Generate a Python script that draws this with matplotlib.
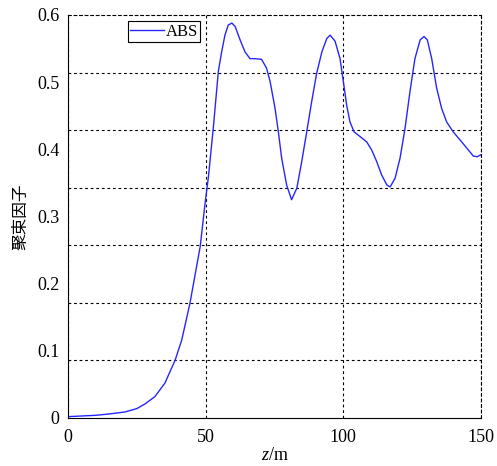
import numpy as np
import matplotlib
matplotlib.use("Agg")
import matplotlib.pyplot as plt
from matplotlib.ticker import FixedLocator

z = [0, 5, 10, 15, 20.7, 25, 28, 31.6, 35.2, 38.9, 41.3, 44.3, 48, 49.8, 51, 52.8,
     54.6, 55.8, 57.0, 58.2, 59.5, 60.7, 62.5, 64.3, 66.1, 67.9, 70.3, 72.1, 73.4, 75.2,
     76.4, 77.6, 79.4, 81.2, 83.1, 84.9, 86.7, 88.5, 90.3, 92.2, 94.0, 95.2, 97.0, 98.8,
     100, 101.2, 102.4, 103.9, 106.1, 108.5, 110.3, 112.1, 113.9, 115.8, 117, 118.8,
     120.6, 122.4, 124.2, 126, 127.9, 129.3, 130.5, 132.1, 133.9, 135.7, 137.5, 139.9,
     142.4, 144.8, 147.2, 148.6, 150]
abs_vals = [0.002, 0.003, 0.004, 0.006, 0.009, 0.014, 0.021, 0.032, 0.052, 0.086, 0.116,
            0.171, 0.255, 0.32, 0.359, 0.433,
            0.516, 0.545, 0.570, 0.585, 0.588, 0.583, 0.563, 0.545, 0.535, 0.535, 0.534,
            0.521, 0.501, 0.461, 0.426, 0.387, 0.347, 0.325, 0.342, 0.382, 0.426, 0.471,
            0.513, 0.545, 0.565, 0.570, 0.561, 0.535, 0.501, 0.466, 0.441, 0.426, 0.419,
            0.411, 0.399, 0.382, 0.362, 0.347, 0.344, 0.357, 0.387, 0.431, 0.486, 0.535,
            0.563, 0.568, 0.563, 0.535, 0.491, 0.461, 0.441, 0.426, 0.414, 0.402, 0.39,
            0.389, 0.392]

xticks = [0, 50, 100, 150]
ytick_vals = [0, 0.1, 0.2, 0.3, 0.4, 0.5, 0.6]
ytick_labels = ["0", "0.1", "0.2", "0.3", "0.4", "0.5", "0.6"]
n_grid = 7

serif = ["Liberation Serif", "DejaVu Serif"]
plt.rcParams['font.family'] = serif
plt.rcParams['mathtext.fontset'] = 'custom'
plt.rcParams['mathtext.rm'] = 'Liberation Serif'
plt.rcParams['mathtext.it'] = 'Liberation Serif:style=italic'

fig = plt.figure(figsize=(4.97, 4.66), dpi=100)
ax = fig.add_axes([68/497, 1-418/466, 413/497, 403/466])

ax.plot(z, abs_vals, color=(0.15, 0.15, 1.0), lw=1.0, label="ABS")
ax.set_xlim(0, 150)
ax.set_ylim(0, 0.6)

ax.set_xticks(xticks)
ax.set_xticklabels([str(t) for t in xticks])
ax.set_yticks(ytick_vals)
ax.set_yticklabels(ytick_labels)
ax.yaxis.set_minor_locator(FixedLocator([0.6 * k / n_grid for k in range(1, n_grid)]))

ax.tick_params(axis='both', which='both', length=0, labelsize=13, colors='black')
ax.tick_params(axis='x', pad=8)
ax.tick_params(axis='y', pad=6)
ax.grid(False)
ax.xaxis.grid(True, which='major', color='black', linestyle=(0, (2.5, 2.5)), lw=0.8)
ax.yaxis.grid(True, which='minor', color='black', linestyle=(0, (2.5, 2.5)), lw=0.8)

for s in ['top', 'right']:
    ax.spines[s].set_linestyle((0, (2.5, 2.5)))
    ax.spines[s].set_linewidth(0.8)
    ax.spines[s].set_color('black')
for s in ['left', 'bottom']:
    ax.spines[s].set_color('black')
    ax.spines[s].set_linewidth(0.8)

ax.set_xlabel(r"$z$/m", fontsize=13, labelpad=1)
ax.set_ylabel("聚束因子", fontsize=12, family=["Noto Sans CJK SC", "DejaVu Sans"], labelpad=6)

leg = ax.legend(loc='upper left', bbox_to_anchor=(0.145, 0.985), fontsize=12,
                handlelength=2.0, handletextpad=0.1, borderpad=0.15, fancybox=False,
                framealpha=1, edgecolor='black', borderaxespad=0)
leg.get_frame().set_linewidth(0.8)

fig.savefig("out.png", dpi=100)
